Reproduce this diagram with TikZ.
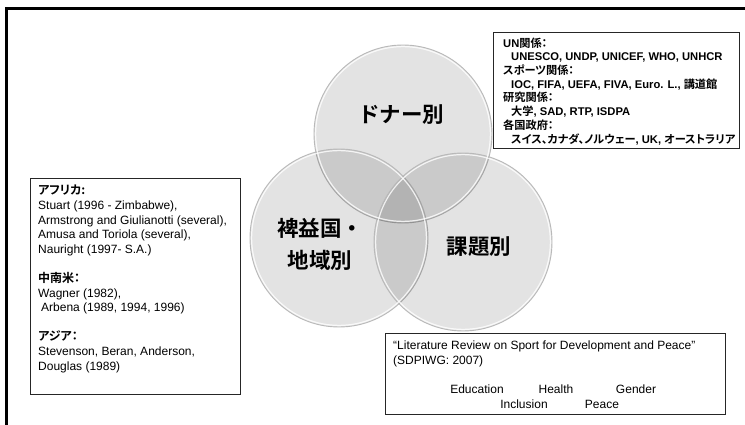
\documentclass[tikz,border=0pt]{standalone}
\usepackage{fontspec}
\setmainfont{Liberation Sans}
\newfontfamily\jp{Noto Sans CJK JP}[BoldFont={Noto Sans CJK JP Bold}, RawFeature=+palt]
\newfontfamily\jplabel{Noto Sans CJK JP}[BoldFont={Noto Sans CJK JP Bold}]
\newcommand\jtx[1]{{\jp #1}}
\begin{document}
\begin{tikzpicture}[x=1pt,y=-1pt,
  venn/.style={circle, inner sep=0pt, outer sep=0pt, minimum size=178pt,
    draw=gray!55, line width=0.9pt, fill=black, fill opacity=0.11},
  rim/.style={draw=white, line width=1.2pt, opacity=0.8},
  frame/.style={draw=black!85, line width=1.3pt, inner sep=0pt, anchor=north west},
  lbl/.style={font=\jplabel\bfseries\fontsize{21.5}{32}\selectfont, inner sep=0pt, align=center},
  txt/.style={inner sep=0pt, align=left, anchor=north west},
  word/.style={inner sep=0pt, anchor=base, font=\fontsize{12}{14.5}\selectfont}]
\useasboundingbox (0,0) rectangle (745,425);
\fill[white] (0,0) rectangle (745,425);
% outer frame (top and left)
\draw[line width=3pt] (745,8.5) -- (6.5,8.5) -- (6.5,425);

% Venn circles
\node[venn] (donor) at (403,134) {};
\node[venn] (region) at (339,238) {};
\node[venn] (issue) at (463,242) {};
\draw[rim] (donor.center) circle[radius=87.4pt];
\draw[rim] (region.center) circle[radius=87.4pt];
\draw[rim] (issue.center) circle[radius=87.4pt];

% circle labels
\node[lbl] (donorlbl) at (401,115) {ドナー別};
\node[lbl] (regionlbl) at (320,244) {裨益国・\\地域別};
\node[lbl] (issuelbl) at (479,247) {課題別};

% top right box
\node[frame, minimum width=246pt, minimum height=116pt] (unbox) at (493,32) {};
\node[txt, font=\bfseries\fontsize{11.2}{13.7}\selectfont] (untext) at (503,37.5) {%
UN\jtx{関係：}\\
\hspace*{8pt}UNESCO, UNDP, UNICEF, WHO, UNHCR\\
\jtx{スポーツ関係：}\\
\hspace*{8pt}IOC, FIFA, UEFA, FIVA, Euro. L., \jtx{講道館}\\
\jtx{研究関係：}\\
\hspace*{8pt}\jtx{大学}, SAD, RTP, ISDPA\\
\jtx{各国政府：}\\
\hspace*{8pt}\jtx{スイス、カナダ、ノルウェー}, UK, \jtx{オーストラリア}};

% left box
\node[frame, minimum width=210.5pt, minimum height=216pt] (areabox) at (29.5,178) {};
\node[txt, font=\fontsize{12}{14.6}\selectfont] (areatext) at (38,185) {%
\textbf{\jtx{アフリカ:}}\\
Stuart (1996 - Zimbabwe),\\
Armstrong and Giulianotti (several),\\
Amusa and Toriola (several),\\
Nauright (1997- S.A.)\\[14.6pt]
\textbf{\jtx{中南米：}}\\
Wagner (1982),\\
\hspace*{3pt}Arbena (1989, 1994, 1996)\\[14.6pt]
\textbf{\jtx{アジア：}}\\
Stevenson, Beran, Anderson,\\
Douglas (1989)};

% bottom right box
\node[frame, minimum width=340pt, minimum height=81pt] (litbox) at (385,333) {};
\node[txt, font=\fontsize{12}{14.5}\selectfont] (littext) at (393,341) {%
“Literature Review on Sport for Development and Peace”\\
(SDPIWG: 2007)};
\node[word] (edu) at (477,393.3) {Education};
\node[word] (health) at (556,393.3) {Health};
\node[word] (gender) at (636,393.3) {Gender};
\node[word] (incl) at (524,408.3) {Inclusion};
\node[word] (peace) at (602,408.3) {Peace};
\end{tikzpicture}
\end{document}
